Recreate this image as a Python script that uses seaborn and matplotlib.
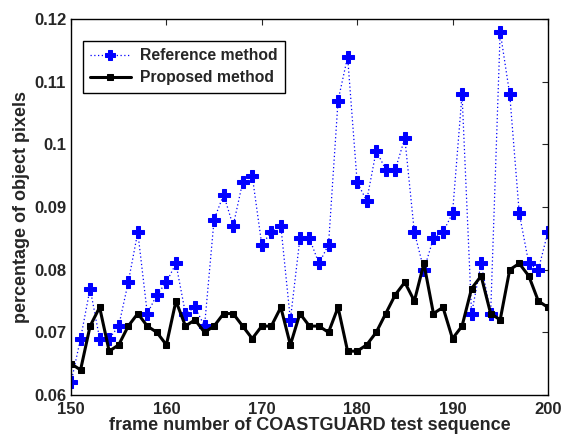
import numpy as np
import pandas as pd
import matplotlib
matplotlib.use("Agg")
import matplotlib.pyplot as plt
import seaborn as sns

# frame numbers of the sequence
frames = list(range(150, 201))

# reference method (blue dotted, + markers)
reference = [0.062, 0.069, 0.077, 0.069, 0.069, 0.071, 0.078, 0.086, 0.073, 0.076,
             0.078, 0.081, 0.073, 0.074, 0.071, 0.088, 0.092, 0.087, 0.094, 0.095,
             0.084, 0.086, 0.087, 0.072, 0.085, 0.085, 0.081, 0.084, 0.107, 0.114,
             0.094, 0.091, 0.099, 0.096, 0.096, 0.101, 0.086, 0.080, 0.085, 0.086,
             0.089, 0.108, 0.073, 0.081, 0.073, 0.118, 0.108, 0.089, 0.081, 0.080,
             0.086]

# proposed method (black solid, square markers)
proposed = [0.065, 0.064, 0.071, 0.074, 0.067, 0.068, 0.071, 0.073, 0.071, 0.070,
            0.068, 0.075, 0.071, 0.072, 0.070, 0.071, 0.073, 0.073, 0.071, 0.069,
            0.071, 0.071, 0.074, 0.068, 0.073, 0.071, 0.071, 0.070, 0.074, 0.067,
            0.067, 0.068, 0.070, 0.073, 0.076, 0.078, 0.075, 0.081, 0.073, 0.074,
            0.069, 0.071, 0.077, 0.079, 0.073, 0.072, 0.080, 0.081, 0.079, 0.075,
            0.074]

xticks = [150, 160, 170, 180, 190, 200]
yticks = [0.06, 0.07, 0.08, 0.09, 0.1, 0.11, 0.12]
ytick_labels = ["0.06", "0.07", "0.08", "0.09", "0.1", "0.11", "0.12"]

sns.set_style("white")
plt.rcParams['font.family'] = ['Liberation Sans', 'DejaVu Sans']
plt.rcParams['font.weight'] = 'bold'

df = pd.DataFrame({'frame': frames, 'Reference method': reference, 'Proposed method': proposed})

fig = plt.figure(figsize=(5.61, 4.37), dpi=100)
ax = fig.add_axes([0.1266, 0.0961, 0.850, 0.860])

sns.lineplot(data=df, x='frame', y='Reference method', ax=ax, color='#0000ff',
             linestyle=(0, (1, 2)), linewidth=0.9, marker='P', markersize=8,
             markeredgecolor='#0000ff', label='Reference method')
sns.lineplot(data=df, x='frame', y='Proposed method', ax=ax, color='black',
             linestyle='-', linewidth=2.2, marker='s', markersize=5,
             markeredgecolor='black', label='Proposed method')

ax.set_xlim(150, 200)
ax.set_ylim(0.06, 0.12)
ax.set_xticks(xticks)
ax.set_yticks(yticks)
ax.set_yticklabels(ytick_labels)
ax.tick_params(direction='in', top=True, right=True, labelsize=12, length=4, width=0.8)
ax.tick_params(axis='x', pad=5)
for s in ax.spines.values():
    s.set_color('black')
    s.set_linewidth(1.0)

ax.set_xlabel('frame number of COASTGUARD test sequence', fontsize=13, fontweight='bold', labelpad=0)
ax.set_ylabel('percentage of object pixels', fontsize=13, fontweight='bold', labelpad=3)

leg = ax.legend(loc='upper left', bbox_to_anchor=(0.008, 0.962), fontsize=11.3, frameon=True,
                fancybox=False, edgecolor='black', framealpha=1, handlelength=2.6,
                borderpad=0.45, labelspacing=0.45, handletextpad=0.6, markerscale=0.85)
leg.get_frame().set_linewidth(1.0)
for t in leg.get_texts():
    t.set_fontweight('bold')

fig.savefig('out.png', dpi=100)
